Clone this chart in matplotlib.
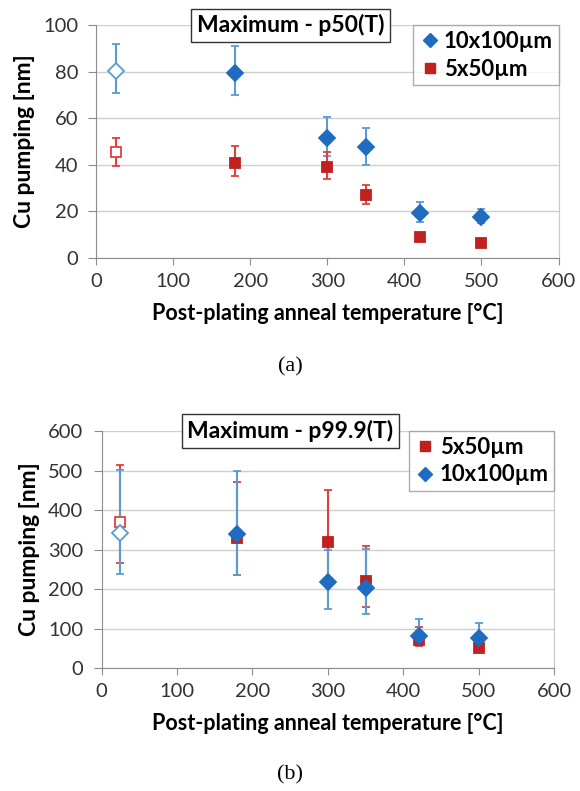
import numpy as np
import matplotlib.pyplot as plt
from matplotlib.lines import Line2D

plt.rcParams['font.family'] = ['Lato', 'DejaVu Sans']

temps = [25, 180, 300, 350, 420, 500]
open_pt = [True, False, False, False, False, False]

# panel (a): Maximum - p50(T)
a_big = [80.5, 79.5, 51.5, 47.5, 19.5, 17.5]
a_big_lo = [71, 70, 44, 40, 15.5, 15]
a_big_hi = [92, 91, 60.5, 56, 24, 21]
a_small = [45.5, 41, 39, 27, 9, 6.5]
a_small_lo = [39.5, 35, 34, 23, 8, 6]
a_small_hi = [51.5, 48, 45.5, 31.5, 10, 7]

# panel (b): Maximum - p99.9(T)
b_small = [370, 330, 320, 220, 70, 50]
b_small_lo = [265, 235, 228, 155, 55, 42]
b_small_hi = [515, 472, 452, 310, 105, 58]
b_big = [343, 340, 218, 202, 82, 77]
b_big_lo = [237, 235, 150, 137, 60, 62]
b_big_hi = [502, 498, 300, 302, 125, 113]

BLUE = '#1f6bbf'
BLUE_E = '#5b9bd5'
RED = '#c0201e'
RED_E = '#e0403c'


def draw_series(ax, y, lo, hi, marker, color, ecolor, size):
    y = np.array(y)
    yerr = [y - np.array(lo), np.array(hi) - y]
    ax.errorbar(temps, y, yerr=yerr, fmt='none', ecolor=ecolor, elinewidth=1.5,
                capsize=3, capthick=1.3, zorder=3)
    for t, v, o in zip(temps, y, open_pt):
        ax.plot(t, v, marker=marker, ms=size, mec=color if not o else ecolor,
                mfc='white' if o else color, mew=1.3, ls='none', zorder=4)


def style_axes(ax, ymax, ystep, title, title_x):
    ax.set_xlim(0, 600)
    ax.set_ylim(0, ymax)
    ax.set_xticks(np.arange(0, 601, 100))
    ax.set_yticks(np.arange(0, ymax + 1, ystep))
    ax.grid(axis='y', color='#cfcfcf', lw=1)
    ax.set_axisbelow(True)
    for s in ['left', 'bottom']:
        ax.spines[s].set_color('#8c8c8c')
    ax.spines['right'].set_color('#c8c8c8')
    ax.spines['top'].set_visible(False)
    ax.tick_params(axis='both', colors='#8c8c8c', labelcolor='#333333',
                   labelsize=14.5, direction='out')
    ax.tick_params(axis='x', length=5, pad=6)
    ax.tick_params(axis='y', length=6, pad=7)
    ax.set_ylabel('Cu pumping [nm]', fontsize=16.5, fontweight='bold', labelpad=6)
    ax.set_xlabel('Post-plating anneal temperature [°C]', fontsize=15.5,
                  fontweight='bold', labelpad=9.5)
    ax.text(title_x, 1.0, title, transform=ax.transAxes, ha='center', va='center',
            fontsize=16.5, fontweight='bold', zorder=6,
            bbox=dict(boxstyle='square,pad=0.25', fc='white', ec='#333333', lw=1))


def add_legend(ax, handles, labels):
    leg = ax.legend(handles, labels, loc='upper right', bbox_to_anchor=(1.0, 1.0),
                    fontsize=16, frameon=True, fancybox=False,
                    edgecolor='#999999', handletextpad=0.15, handlelength=1.0,
                    borderpad=0.25, labelspacing=0.3, borderaxespad=0)
    leg.get_frame().set_linewidth(1)
    for t in leg.get_texts():
        t.set_fontweight('bold')


fig = plt.figure(figsize=(5.8, 7.91), dpi=100)

# (a)
ax1 = fig.add_axes([0.166, 0.674, 0.797, 0.294])
draw_series(ax1, a_big, a_big_lo, a_big_hi, 'D', BLUE, BLUE_E, 8)
draw_series(ax1, a_small, a_small_lo, a_small_hi, 's', RED, RED_E, 7.5)
style_axes(ax1, 100, 20, 'Maximum - p50(T)', 0.42)
add_legend(ax1,
           [Line2D([], [], marker='D', color=BLUE, ls='none', ms=7.5),
            Line2D([], [], marker='s', color=RED, ls='none', ms=6.5)],
           ['10x100µm', '5x50µm'])
fig.text(0.5, 0.536, '(a)', ha='center', va='center', fontsize=16,
         family='Liberation Serif')

# (b)
ax2 = fig.add_axes([0.175, 0.1555, 0.781, 0.2995])
draw_series(ax2, b_small, b_small_lo, b_small_hi, 's', RED, RED_E, 7.5)
draw_series(ax2, b_big, b_big_lo, b_big_hi, 'D', BLUE, BLUE_E, 8)
style_axes(ax2, 600, 100, 'Maximum - p99.9(T)', 0.417)
add_legend(ax2,
           [Line2D([], [], marker='s', color=RED, ls='none', ms=6.5),
            Line2D([], [], marker='D', color=BLUE, ls='none', ms=7.5)],
           ['5x50µm', '10x100µm'])
fig.text(0.5, 0.021, '(b)', ha='center', va='center', fontsize=16,
         family='Liberation Serif')

fig.savefig('out.png', dpi=100)
